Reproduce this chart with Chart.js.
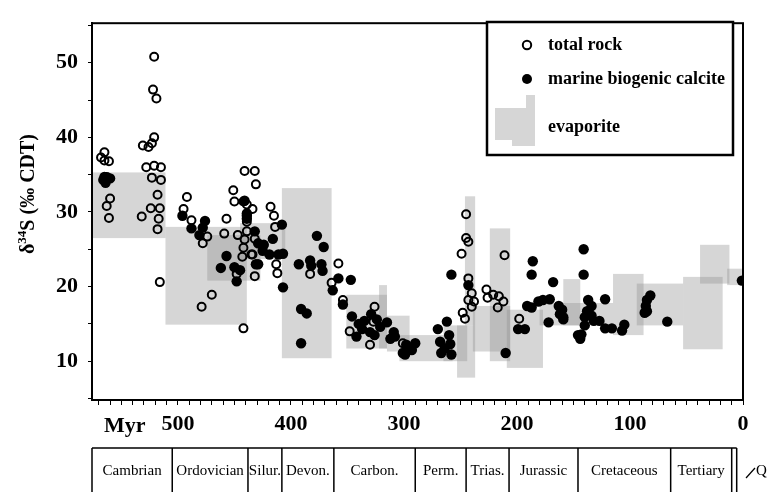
<!DOCTYPE html>
<html>
<head>
<meta charset="utf-8">
<script src="https://cdn.jsdelivr.net/npm/chart.js@4"></script>
<style>
  html, body { margin: 0; padding: 0; background: #fff; }
  #wrap { width: 768px; height: 492px; }
</style>
</head>
<body>
<div id="wrap"><canvas id="sulfurChart" width="768" height="492"></canvas></div>
<script>
// total rock (open circles): age in Myr, d34S in permil
var rockAge = [565,568,565,561,563,560,563,561,521,522,519,521,523,531,526,528,521,515,523,515,518,524,516,532,517,518,516,
  492,495,488,474,478,457,459,470,479,442,447,442,443,448,451,450,441,432,431,442,439,439,434,432,441,435,432,
  418,415,414,439,434,413,412,383,358,364,354,326,327,348,330,301,
  245,245,243,249,243,240,243,238,240,248,246,211,227,226,221,216,212,217,198];
var rockD34S = [38.0,37.3,36.9,36.8,34.7,31.8,30.8,29.2,50.8,46.4,45.2,40.0,39.2,38.9,38.7,36.0,36.2,36.0,34.6,34.3,32.3,30.5,30.5,29.4,29.1,27.7,20.6,
  32.0,30.4,28.9,26.7,25.8,29.1,27.1,18.9,17.3,14.4,26.9,25.2,24.0,21.7,32.9,31.4,35.5,35.5,33.7,31.4,31.0,28.7,30.4,26.4,26.3,24.3,21.4,
  30.7,29.5,28.0,27.4,24.3,23.0,21.8,21.7,23.1,20.5,18.2,17.3,15.3,14.0,12.2,12.4,
  29.7,26.5,26.0,24.4,21.1,19.1,18.2,18.0,17.3,16.5,15.7,24.2,19.6,18.5,18.9,18.7,18.0,17.2,15.7];

// marine biogenic calcite (filled circles)
var calciteAge = [566,564,560,565,496,488,481,476,478,457,462,450,445,448,439,439,432,431,441,439,429,424,425,416,419,411,407,429,408,407,
  393,383,382,377,371,373,372,391,386,391,358,347,363,354,346,340,335,329,324,337,330,321,342,315,309,308,312,326,301,298,290,299,293,
  262,270,268,260,259,264,258,267,258,243,199,193,210,186,187,168,191,187,181,177,171,163,162,159,172,146,
  141,141,122,137,134,160,159,138,140,134,132,127,140,122,116,107,105,143,144,82,85,86,85,87,67,1];
var calciteD34S = [34.3,33.9,34.5,34.7,29.5,27.8,26.9,28.8,27.9,24.1,22.5,22.6,22.2,20.7,29.8,29.1,27.4,23.0,31.5,29.5,25.8,25.6,24.8,26.4,24.3,24.3,24.4,23.0,28.3,19.9,
  23.0,23.5,22.8,26.8,25.3,23.0,22.1,17.0,16.4,12.4,21.1,20.9,19.5,17.6,16.0,15.0,15.4,16.3,15.6,14.3,13.9,14.6,13.3,15.2,13.9,13.3,13.0,13.5,11.1,12.2,12.4,10.9,11.5,
  15.3,14.3,12.6,13.5,12.3,11.7,10.9,11.1,21.6,20.2,14.3,14.3,11.1,23.4,21.6,20.6,17.4,17.2,18.0,18.2,18.3,17.4,16.3,15.6,15.2,13.5,
  25.0,21.6,18.3,18.2,17.4,16.9,15.9,16.7,15.9,16.1,15.4,15.4,14.8,14.4,14.4,14.1,14.9,13.6,13.0,18.8,18.2,17.4,16.7,16.5,15.3,20.8];

// evaporite ranges (grey boxes): older age, younger age, low, high
var evapOld   = [576,511,474,445,408,351,322,315,304,265,246,253,224,239,209,180,159,115,94,53,38,14];
var evapYoung = [511,439,427,405,364,315,315,295,257,244,237,237,206,206,177,115,144,88,53,18,12,1];
var evapLow   = [26.5,14.9,20.8,23.7,10.4,11.7,11.7,11.3,10.0,10.0,14.8,7.8,10.0,11.3,9.1,14.8,14.8,13.5,14.8,11.6,20.4,20.2];
var evapHigh  = [35.3,28.0,26.9,28.5,33.2,18.9,20.2,16.1,13.5,14.8,32.1,14.8,27.8,17.4,16.9,17.8,21.0,21.7,20.4,21.3,25.6,22.4];

// geologic periods under the age axis
var periodNames = ['Cambrian','Ordovician','Silur.','Devon.','Carbon.','Perm.','Trias.','Jurassic','Cretaceous','Tertiary'];
var periodBounds = [576,505,438,408,362,290,245,207,146,64,10];

var serif = "'Liberation Serif', 'Times New Roman', serif";
var evapFill = 'rgba(140,140,140,0.36)';

var extras = {
    id: 'extras',
    beforeDatasetsDraw: (chart) => {
        var ctx = chart.ctx, x = chart.scales.x, y = chart.scales.y, a = chart.chartArea;
        ctx.save();
        ctx.beginPath();
        ctx.rect(a.left, a.top, a.right - a.left, a.bottom - a.top);
        ctx.clip();
        ctx.fillStyle = evapFill;
        for (var i = 0; i < evapOld.length; i++) {
            var x0 = x.getPixelForValue(evapOld[i]), x1 = x.getPixelForValue(evapYoung[i]);
            var y0 = y.getPixelForValue(evapHigh[i]), y1 = y.getPixelForValue(evapLow[i]);
            ctx.fillRect(x0, y0, x1 - x0, y1 - y0);
        }
        ctx.restore();
    },
    afterDraw: (chart) => {
        var ctx = chart.ctx, x = chart.scales.x, a = chart.chartArea;
        ctx.save();
        // frame
        ctx.strokeStyle = '#000';
        ctx.lineWidth = 2;
        ctx.strokeRect(a.left, a.top, a.right - a.left, a.bottom - a.top);

        // y title with superscript
        ctx.translate(29, 194);
        ctx.rotate(-Math.PI / 2);
        ctx.fillStyle = '#000';
        ctx.textBaseline = 'middle';
        var parts = [['δ', 0], ['34', 1], ['S (‰ CDT)', 0]];
        var total = 0;
        parts.forEach(p => {
            ctx.font = (p[1] ? 'bold 13px ' : 'bold 20px ') + serif;
            total += ctx.measureText(p[0]).width;
        });
        var cx = -total / 2;
        parts.forEach(p => {
            ctx.font = (p[1] ? 'bold 13px ' : 'bold 20px ') + serif;
            ctx.fillText(p[0], cx, p[1] ? -6 : 0);
            cx += ctx.measureText(p[0]).width;
        });
        ctx.setTransform(1, 0, 0, 1, 0, 0);

        // Myr label
        ctx.font = 'bold 22px ' + serif;
        ctx.textBaseline = 'middle';
        ctx.textAlign = 'left';
        ctx.fillText('Myr', 104, 426);

        // period boxes
        var top = 448, bot = 492;
        var xr = x.getPixelForValue(periodBounds[periodBounds.length - 1]);
        ctx.lineWidth = 1.5;
        ctx.beginPath();
        ctx.moveTo(a.left, top); ctx.lineTo(xr + 5, top);
        for (var i = 0; i < periodBounds.length; i++) {
            var px = i === 0 ? a.left : x.getPixelForValue(periodBounds[i]);
            ctx.moveTo(px, top); ctx.lineTo(px, bot);
        }
        ctx.moveTo(xr + 5, top); ctx.lineTo(xr + 5, bot);
        ctx.stroke();
        ctx.font = '15px ' + serif;
        ctx.textAlign = 'center';
        for (var i = 0; i < periodNames.length; i++) {
            var l = i === 0 ? a.left : x.getPixelForValue(periodBounds[i]);
            var r = x.getPixelForValue(periodBounds[i + 1]);
            ctx.fillText(periodNames[i], (l + r) / 2, 471);
        }
        // Quaternary pointer
        ctx.lineWidth = 1.2;
        ctx.beginPath();
        ctx.moveTo(746, 478); ctx.lineTo(755, 468);
        ctx.stroke();
        ctx.textAlign = 'left';
        ctx.fillText('Q', 756, 471);

        // legend
        var lx = 487, ly = 22, lw = 246, lh = 133;
        ctx.fillStyle = '#fff';
        ctx.fillRect(lx, ly, lw, lh);
        ctx.lineWidth = 2.5;
        ctx.strokeRect(lx, ly, lw, lh);
        ctx.fillStyle = evapFill;
        ctx.beginPath();
        ctx.moveTo(526, 95); ctx.lineTo(535, 95); ctx.lineTo(535, 146);
        ctx.lineTo(512, 146); ctx.lineTo(512, 140); ctx.lineTo(495, 140);
        ctx.lineTo(495, 108); ctx.lineTo(526, 108); ctx.closePath();
        ctx.fill();
        ctx.lineWidth = 2;
        ctx.beginPath();
        ctx.arc(527, 45, 4.2, 0, Math.PI * 2);
        ctx.stroke();
        ctx.fillStyle = '#000';
        ctx.beginPath();
        ctx.arc(527, 79, 5, 0, Math.PI * 2);
        ctx.fill();
        ctx.font = 'bold 18px ' + serif;
        ctx.textBaseline = 'middle';
        ctx.fillText('total rock', 548, 45);
        ctx.fillText('marine biogenic calcite', 548, 79);
        ctx.fillText('evaporite', 548, 127);
        ctx.restore();
    }
};

new Chart(document.getElementById('sulfurChart'), {
    type: 'scatter',
    data: {
        datasets: [
            {
                label: 'marine biogenic calcite',
                data: calciteAge.map((v, i) => ({x: v, y: calciteD34S[i]})),
                pointRadius: 5.2,
                pointBackgroundColor: '#000',
                pointBorderWidth: 0
            },
            {
                label: 'total rock',
                data: rockAge.map((v, i) => ({x: v, y: rockD34S[i]})),
                pointRadius: 4,
                pointBackgroundColor: 'rgba(0,0,0,0)',
                pointBorderColor: '#000',
                pointBorderWidth: 2
            }
        ]
    },
    options: {
        responsive: false,
        animation: false,
        layout: { padding: { top: 12, right: 25, left: 0, bottom: 0 } },
        plugins: {
            legend: { display: false },
            tooltip: { enabled: false }
        },
        scales: {
            x: {
                type: 'linear',
                reverse: true,
                min: 0,
                max: 576,
                afterFit: (s) => { s.height = 92; },
                border: { display: true, color: '#000', width: 2 },
                grid: { drawOnChartArea: false, drawTicks: true, tickLength: 5, color: '#000', lineWidth: 1 },
                ticks: {
                    stepSize: 10,
                    includeBounds: false,
                    autoSkip: false,
                    maxTicksLimit: 100,
                    maxRotation: 0,
                    padding: 6,
                    color: '#000',
                    font: { family: serif, size: 22, weight: 'bold' },
                    callback: (v) => v % 100 === 0 ? String(v) : ''
                }
            },
            y: {
                min: 4.8,
                max: 55.3,
                afterFit: (s) => { s.width = 92; },
                border: { display: true, color: '#000', width: 2 },
                grid: { drawOnChartArea: false, drawTicks: true, tickLength: 4, color: '#000', lineWidth: 1 },
                ticks: {
                    stepSize: 5,
                    includeBounds: false,
                    padding: 10,
                    color: '#000',
                    font: { family: serif, size: 22, weight: 'bold' },
                    callback: (v) => v % 10 === 0 ? String(v) : ''
                }
            }
        }
    },
    plugins: [extras]
});
</script>
</body>
</html>
